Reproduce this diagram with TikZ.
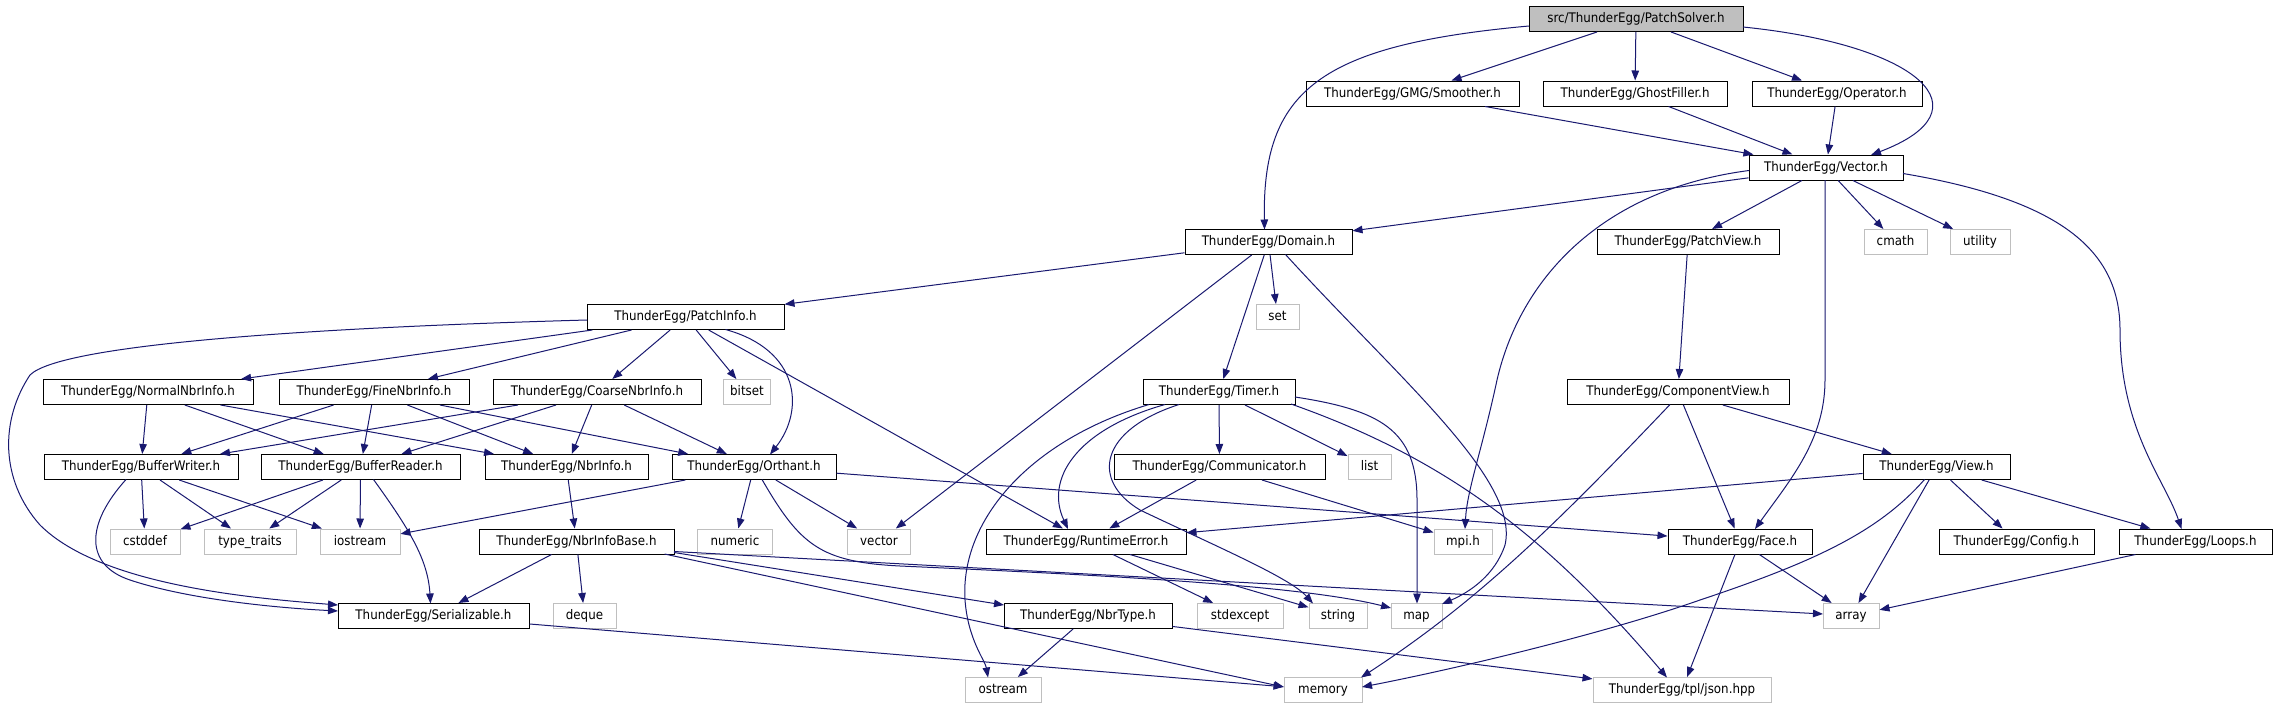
\documentclass[tikz,border=0pt]{standalone}
\usepackage{fontspec}
\setmainfont{DejaVu Sans Condensed}
\usetikzlibrary{arrows.meta,calc}
\definecolor{edgecol}{HTML}{191970}
\definecolor{sysgrey}{HTML}{BFBFBF}
\definecolor{mainfill}{HTML}{BFBFBF}
\tikzset{
  hdr/.style={draw=black, line width=1pt, fill=white, minimum height=25pt, inner sep=0pt,
    font=\fontsize{13.2}{15}\selectfont, text height=9.6pt, text depth=2.6pt},
  sys/.style={hdr, draw=sysgrey},
  root/.style={hdr, fill=mainfill},
  edge/.style={draw=edgecol, line width=1pt, -{Triangle[length=10pt,width=7.5pt]}}
}
\begin{document}
\begin{tikzpicture}[x=1pt,y=-1pt]
\useasboundingbox[fill=white] (0,0) rectangle (2277,709);
% row 0
\node[root, minimum width=214pt] (ps) at (1636,19) {src/ThunderEgg/PatchSolver.h};
% row 1
\node[hdr, minimum width=213pt] (smoother) at (1412.5,93.5) {ThunderEgg/GMG/Smoother.h};
\node[hdr, minimum width=184pt] (ghost) at (1635,93.5) {ThunderEgg/GhostFiller.h};
\node[hdr, minimum width=170pt] (operator) at (1837,93.5) {ThunderEgg/Operator.h};
% row 2
\node[hdr, minimum width=154pt] (vec) at (1826,167.5) {ThunderEgg/Vector.h};
% row 3
\node[hdr, minimum width=167pt] (domain) at (1268.5,242) {ThunderEgg/Domain.h};
\node[hdr, minimum width=182pt] (patchview) at (1688,242) {ThunderEgg/PatchView.h};
\node[sys, minimum width=63pt] (cmath) at (1895.5,242) {cmath};
\node[sys, minimum width=60pt] (utility) at (1980,242) {utility};
% row 4
\node[hdr, minimum width=197pt] (patchinfo) at (685.5,317) {ThunderEgg/PatchInfo.h};
\node[sys, minimum width=43pt] (set) at (1277.5,317) {set};
% row 5
\node[hdr, minimum width=210pt] (normal) at (148,392) {ThunderEgg/NormalNbrInfo.h};
\node[hdr, minimum width=190pt] (fine) at (374,392) {ThunderEgg/FineNbrInfo.h};
\node[hdr, minimum width=208pt] (coarse) at (597,392) {ThunderEgg/CoarseNbrInfo.h};
\node[sys, minimum width=47pt] (bitset) at (747,392) {bitset};
\node[hdr, minimum width=152pt] (timer) at (1219,392) {ThunderEgg/Timer.h};
\node[hdr, minimum width=222pt] (compview) at (1678,392) {ThunderEgg/ComponentView.h};
% row 6
\node[hdr, minimum width=194pt] (bwriter) at (141,467) {ThunderEgg/BufferWriter.h};
\node[hdr, minimum width=199pt] (breader) at (360.5,467) {ThunderEgg/BufferReader.h};
\node[hdr, minimum width=163pt] (nbrinfo) at (566.5,467) {ThunderEgg/NbrInfo.h};
\node[hdr, minimum width=164pt] (orthant) at (754,467) {ThunderEgg/Orthant.h};
\node[sys, minimum width=43pt] (list) at (1369.5,467) {list};
\node[hdr, minimum width=211pt] (comm) at (1219.5,467) {ThunderEgg/Communicator.h};
\node[hdr, minimum width=147pt] (view) at (1936.5,467) {ThunderEgg/View.h};
% row 7
\node[sys, minimum width=70pt] (cstddef) at (145,541.5) {cstddef};
\node[sys, minimum width=92pt] (typetraits) at (250,541.5) {type\_traits};
\node[sys, minimum width=80pt] (iostream) at (360,541.5) {iostream};
\node[hdr, minimum width=195pt] (nbrinfobase) at (576.5,541.5) {ThunderEgg/NbrInfoBase.h};
\node[sys, minimum width=75pt] (numeric) at (735,541.5) {numeric};
\node[sys, minimum width=63pt] (vectorstd) at (879,541.5) {vector};
\node[hdr, minimum width=200pt] (runtime) at (1086,541.5) {ThunderEgg/RuntimeError.h};
\node[sys, minimum width=58pt] (mpi) at (1463,541.5) {mpi.h};
\node[hdr, minimum width=144pt] (face) at (1740,541.5) {ThunderEgg/Face.h};
\node[hdr, minimum width=155pt] (config) at (2016.5,541.5) {ThunderEgg/Config.h};
\node[hdr, minimum width=153pt] (loops) at (2195.5,541.5) {ThunderEgg/Loops.h};
% row 8
\node[hdr, minimum width=191pt] (serial) at (433.5,616) {ThunderEgg/Serializable.h};
\node[sys, minimum width=63pt] (deque) at (584.5,616) {deque};
\node[hdr, minimum width=168pt] (nbrtype) at (1088,616) {ThunderEgg/NbrType.h};
\node[sys, minimum width=86pt] (stdexcept) at (1240,616) {stdexcept};
\node[sys, minimum width=58pt] (string) at (1338,616) {string};
\node[sys, minimum width=51pt] (map) at (1416.5,616) {map};
\node[sys, minimum width=56pt] (array) at (1851,616) {array};
% row 9
\node[sys, minimum width=76pt] (ostream) at (1003,690) {ostream};
\node[sys, minimum width=78pt] (memory) at (1323,690) {memory};
\node[sys, minimum width=178pt] (json) at (1682,690) {ThunderEgg/tpl/json.hpp};

% straight connectors
\foreach \a/\b in {ps/smoother, ps/ghost, ps/operator, smoother/vec, ghost/vec, operator/vec,
  vec/domain, vec/patchview, vec/cmath, vec/utility, patchview/compview,
  domain/patchinfo, domain/set, domain/timer, domain/vectorstd,
  patchinfo/normal, patchinfo/fine, patchinfo/coarse, patchinfo/bitset, patchinfo/runtime,
  normal/bwriter, normal/breader, normal/nbrinfo,
  fine/bwriter, fine/breader, fine/nbrinfo, fine/orthant,
  coarse/bwriter, coarse/breader, coarse/nbrinfo, coarse/orthant,
  bwriter/cstddef, bwriter/typetraits, bwriter/iostream,
  breader/cstddef, breader/typetraits, breader/iostream,
  nbrinfo/nbrinfobase, orthant/iostream, orthant/numeric, orthant/vectorstd, orthant/face,
  timer/comm, timer/list, comm/runtime, comm/mpi,
  compview/view, compview/face, view/runtime, view/config, view/loops, view/array,
  nbrinfobase/serial, nbrinfobase/deque, runtime/stdexcept, runtime/string,
  face/array, face/json, loops/array, nbrtype/ostream, nbrtype/json, serial/memory}
  \draw[edge] (\a) -- (\b);

% curved connectors
\draw[edge] ($(ps)+(-107,7)$) .. controls (1320,45) and (1262,90) .. ($(domain)+(-4,-12.5)$);
\draw[edge] ($(ps)+(107,8)$) .. controls (1920,45) and (1990,110) .. ($(vec)+(45,-12.5)$);
\draw[edge] ($(vec)+(77,6)$) .. controls (2060,200) and (2120,250) .. (2120,330)
  .. controls (2120,430) and (2165,480) .. ($(loops)+(-14,-12.5)$);
\draw[edge] ($(vec)+(-1,12.5)$) -- (1825,380) .. controls (1825,440) and (1790,480) .. ($(face)+(15,-12.5)$);
\draw[edge] ($(vec)+(-77,3)$) .. controls (1600,190) and (1520,280) .. (1497,380)
  .. controls (1482,450) and (1467,490) .. ($(mpi)+(2,-12.5)$);
\draw[edge] ($(domain)+(17,12.5)$) .. controls (1400,380) and (1520,480) .. (1505,545)
  .. controls (1495,575) and (1470,592) .. ($(map)+(25.5,-12)$);
\draw[edge] ($(patchinfo)+(40,12.5)$) .. controls (800,350) and (805,410) .. ($(orthant)+(16,-12.5)$);
\draw[edge] ($(patchinfo)+(-98.5,3)$) .. controls (300,328) and (60,345) .. (30,375)
  .. controls (0,420) and (0,480) .. (40,525) .. controls (100,585) and (250,598) .. ($(serial)+(-95.5,-11)$);
\draw[edge] ($(bwriter)+(-15,12.5)$) .. controls (85,525) and (85,565) .. (130,580)
  .. controls (190,600) and (280,608) .. ($(serial)+(-95.5,-5)$);
\draw[edge] ($(breader)+(13,12.5)$) .. controls (410,530) and (428,560) .. ($(serial)+(-3,-12.5)$);
\draw[edge] ($(orthant)+(8,12.5)$) .. controls (800,545) and (820,562) .. (900,566)
  .. controls (1100,575) and (1300,585) .. ($(map)+(-25.5,-8)$);
\draw[edge] ($(nbrinfobase)+(97.5,10)$) -- ($(array)+(-28,-2)$);
\draw[edge] ($(nbrinfobase)+(97.5,11)$) -- ($(nbrtype)+(-84,-11)$);
\draw[edge] ($(nbrinfobase)+(88,12.5)$) -- ($(memory)+(-39,-3)$);
\draw[edge] ($(timer)+(-54,12.5)$) .. controls (1075,430) and (1045,480) .. ($(runtime)+(-18,-12.5)$);
\draw[edge] ($(timer)+(-70,12.5)$) .. controls (1030,440) and (960,520) .. (965,600)
  .. controls (968,640) and (985,660) .. ($(ostream)+(-15,-12.5)$);
\draw[edge] ($(timer)+(-40,12.5)$) .. controls (1100,430) and (1090,480) .. (1140,510)
  .. controls (1220,548) and (1290,578) .. ($(string)+(-25,-12.5)$);
\draw[edge] ($(timer)+(76,5)$) .. controls (1380,410) and (1417,430) .. (1417,500) -- ($(map)+(0.5,-12.5)$);
\draw[edge] ($(timer)+(72,12)$) .. controls (1450,460) and (1550,540) .. ($(json)+(-15,-12.5)$);
\draw[edge] ($(compview)+(-8,12.5)$) .. controls (1560,520) and (1480,600) .. ($(memory)+(38,-12.5)$);
\draw[edge] ($(view)+(-12,12.5)$) .. controls (1880,530) and (1820,560) .. (1700,600)
  .. controls (1600,635) and (1450,670) .. ($(memory)+(39,-3)$);
\end{tikzpicture}
\end{document}
